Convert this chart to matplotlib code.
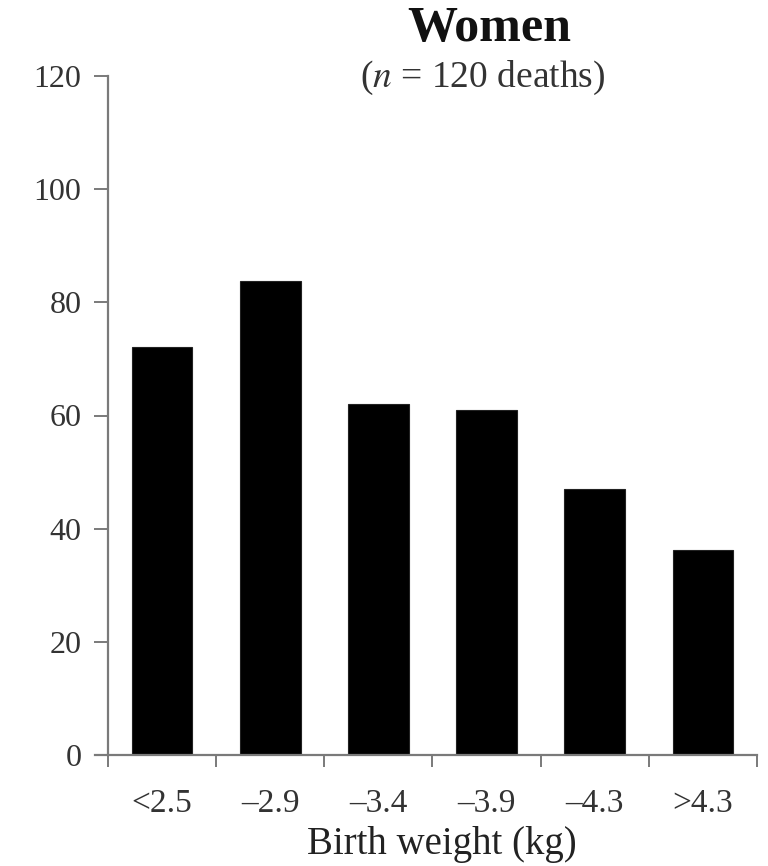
import matplotlib
matplotlib.use("Agg")
from matplotlib import pyplot as plt

categories = ["<2.5", "\u20132.9", "\u20133.4", "\u20133.9", "\u20134.3", ">4.3"]
values = [72.1, 83.8, 62.0, 61.0, 47.0, 36.2]
yticks = [0, 20, 40, 60, 80, 100, 120]

plt.rcParams['font.family'] = ['Liberation Serif', 'DejaVu Serif']
plt.rcParams['mathtext.fontset'] = 'stix'

fig = plt.figure(figsize=(7.68, 8.66), dpi=100)
ax = fig.add_axes([108 / 768, 1 - 755 / 866, 649 / 768, 679 / 866])

x = list(range(len(categories)))
ax.bar(x, values, width=0.56, color="black", edgecolor="#222222", linewidth=0.8)

ax.set_xlim(-0.5, len(categories) - 0.5)
ax.set_ylim(0, 120)
ax.set_yticks(yticks)
ax.set_yticklabels([str(t) for t in yticks], fontsize=23, color="#333333")
ax.set_xticks(x)
ax.set_xticklabels(categories, fontsize=24, color="#333333")
ax.tick_params(axis='x', length=0, pad=24)
ax.set_xticks([i - 0.5 for i in range(len(categories) + 1)], minor=True)
ax.tick_params(axis='x', which='minor', length=8.5, width=1.4, color="#7a7a7a", direction='out')
ax.tick_params(axis='y', length=10, width=1.4, color="#7a7a7a", direction='out', pad=9)

for s in ['top', 'right']:
    ax.spines[s].set_visible(False)
for s in ['left', 'bottom']:
    ax.spines[s].set_color("#7a7a7a")
    ax.spines[s].set_linewidth(1.6)
ax.spines['bottom'].set_bounds(-0.62, len(categories) - 0.5)

ax.set_xlabel("Birth weight (kg)", fontsize=28, color="#222222")
ax.xaxis.set_label_coords((442 - 108) / 649, -0.104)

fig.text(489 / 768, 1 - 29 / 866, "Women", ha='center', va='center', fontsize=36, fontweight='bold', color="#111111")
fig.text(483 / 768, 1 - 78 / 866, "($n$ = 120 deaths)", ha='center', va='center', fontsize=27, color="#333333")

plt.savefig("out.png", dpi=100)
